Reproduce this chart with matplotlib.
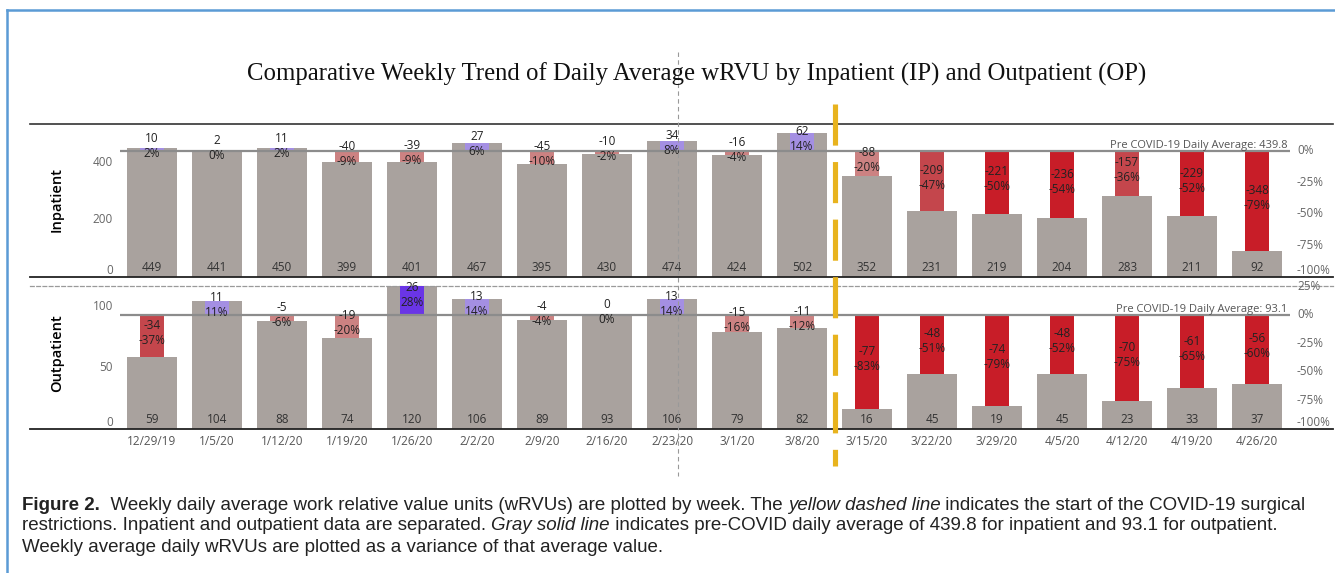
import matplotlib
matplotlib.use('Agg')
import matplotlib.pyplot as plt
import matplotlib.transforms as mtrans
from matplotlib.lines import Line2D
from matplotlib import font_manager

# ---------------- data ----------------
weeks = ['12/29/19', '1/5/20', '1/12/20', '1/19/20', '1/26/20', '2/2/20', '2/9/20',
         '2/16/20', '2/23/20', '3/1/20', '3/8/20', '3/15/20', '3/22/20', '3/29/20',
         '4/5/20', '4/12/20', '4/19/20', '4/26/20']
ip_values = [449, 441, 450, 399, 401, 467, 395, 430, 474, 424, 502, 352, 231, 219, 204, 283, 211, 92]
ip_delta = [10, 2, 11, -40, -39, 27, -45, -10, 34, -16, 62, -88, -209, -221, -236, -157, -229, -348]
ip_pct = [2, 0, 2, -9, -9, 6, -10, -2, 8, -4, 14, -20, -47, -50, -54, -36, -52, -79]
op_values = [59, 104, 88, 74, 120, 106, 89, 93, 106, 79, 82, 16, 45, 19, 45, 23, 33, 37]
op_delta = [-34, 11, -5, -19, 26, 13, -4, 0, 13, -15, -11, -77, -48, -74, -48, -70, -61, -56]
op_pct = [-37, 11, -6, -20, 28, 14, -4, 0, 14, -16, -12, -83, -51, -79, -52, -75, -65, -60]
ip_avg = 439.8
op_avg = 93.1
covid_start = '3/15/20'
ip_ticks = [0, 200, 400]
op_ticks = [0, 50, 100]
ip_pct_ticks = [0, -25, -50, -75, -100]
op_pct_ticks = [25, 0, -25, -50, -75, -100]

title = 'Comparative Weekly Trend of Daily Average wRVU by Inpatient (IP) and Outpatient (OP)'
caption_lines = [
    [('Figure 2.', 'bold'), ('  Weekly daily average work relative value units (wRVUs) are plotted by week. The ', 'normal'),
     ('yellow dashed line', 'italic'), (' indicates the start of the COVID-19 surgical', 'normal')],
    [('restrictions. Inpatient and outpatient data are separated. ', 'normal'), ('Gray solid line', 'italic'),
     (' indicates pre-COVID daily average of 439.8 for inpatient and 93.1 for outpatient.', 'normal')],
    [('Weekly average daily wRVUs are plotted as a variance of that average value.', 'normal')],
]

# ---------------- style ----------------
W, H = 1335, 573
LAB = 'Open Sans'
GREY_BAR = '#A9A29E'
TXT = '#333333'
TICK = '#666666'


def fx(px):
    return px / W


def fy(py):
    return 1 - py / H


def var_color(p):
    if p >= 20:
        return '#6A35E6'
    if p > 0:
        return '#A48FE3'
    if p <= -50:
        return '#C81D28'
    if p <= -30:
        return '#C4464C'
    return '#CC8282'


fig = plt.figure(figsize=(W / 100, H / 100), dpi=100)
fig.patch.set_facecolor('white')

x_left_px, x_right_px = 30, 1333
c0, step = 152, 65
xlim = ((x_left_px - c0) / step, (x_right_px - c0) / step)

ax_ip = fig.add_axes([fx(30), fy(277), fx(1303), (277 - 124) / H])
ax_op = fig.add_axes([fx(30), fy(429), fx(1303), (429 - 286) / H])

panels = [
    (ax_ip, ip_values, ip_delta, ip_pct, ip_avg, ip_ticks, ip_pct_ticks, 533, 'Inpatient', 200),
    (ax_op, op_values, op_delta, op_pct, op_avg, op_ticks, op_pct_ticks, 116.5, 'Outpatient', 353),
]

x = list(range(len(weeks)))
for ax, vals, dlt, pct, avg, ticks, pticks, ytop, name, name_y in panels:
    ax.set_xlim(*xlim)
    ax.set_ylim(0, ytop)
    ax.bar(x, vals, width=0.77, color=GREY_BAR, zorder=2)
    heights = [v - avg for v in vals]
    ax.bar(x, heights, bottom=avg, width=0.38, color=[var_color(p) for p in pct], zorder=3)
    ax.plot([-0.5, len(weeks) - 0.5], [avg, avg], color='#8C8C8C', lw=1.6, zorder=4,
            solid_capstyle='butt')
    ax.text(len(weeks) - 0.53, avg, f'Pre COVID-19 Daily Average: {avg}', ha='right', va='bottom',
            fontsize=8, color='#555555', family=LAB, zorder=5)
    for i, (v, d, p) in enumerate(zip(vals, dlt, pct)):
        ax.annotate(f'{v}', (i, 0), xytext=(0, 3), textcoords='offset pixels', ha='center',
                    va='bottom', fontsize=8.5, color=TXT, family=LAB, zorder=6)
        mid = (v + avg) / 2
        ax.annotate(f'{d}', (i, mid), xytext=(0, 10.5), textcoords='offset pixels', ha='center',
                    va='center', fontsize=8.5, color='#222222', family=LAB, zorder=6)
        ax.annotate(f'{p}%', (i, mid), xytext=(0, -4.5), textcoords='offset pixels', ha='center',
                    va='center', fontsize=8.5, color='#222222', family=LAB, zorder=6)
    # left tick labels
    tl = mtrans.blended_transform_factory(fig.transFigure, ax.transData)
    for t in ticks:
        ax.text(fx(113), t, f'{t}', transform=tl, ha='right', va='bottom' if t == 0 else 'center',
                fontsize=8.5, color=TICK, family=LAB)
    # right percent labels
    for t in pticks:
        yv = avg * (1 + t / 100)
        ax.text(fx(1297), yv, f'{t}%', transform=tl, ha='left',
                va='bottom' if t == -100 else 'center',
                fontsize=8.5, color=TICK, family=LAB, clip_on=False)
    fig.text(fx(57), fy(name_y), name, rotation=90, ha='center', va='center', fontsize=10.5,
             color='black', family=LAB, fontweight='semibold')
    ax.set_yticks([])
    for s in ['left', 'right']:
        ax.spines[s].set_visible(False)
    ax.spines['bottom'].set_color('#222222')
    ax.spines['bottom'].set_linewidth(1.3)
    ax.set_facecolor('none')

ax_ip.set_xticks([])
ax_ip.spines['top'].set_color('#333333')
ax_ip.spines['top'].set_linewidth(1.2)
ax_op.spines['top'].set_color('#9A9A9A')
ax_op.spines['top'].set_linestyle((0, (3, 2)))
ax_op.spines['top'].set_linewidth(0.9)
ax_op.set_xticks(x)
ax_op.set_xticklabels(weeks, fontsize=8.5, color='#555555', family=LAB)
ax_op.tick_params(axis='x', length=0, pad=4.5)

# COVID start line (yellow dashed)
xc = weeks.index(covid_start) - 0.5
tb = mtrans.blended_transform_factory(ax_ip.transData, fig.transFigure)
fig.add_artist(Line2D([xc, xc], [fy(104), fy(466)], transform=tb, color='#E8B31E', lw=3.7,
                      dashes=(8, 3.2), dash_capstyle='butt', zorder=10))

# thin grey dashed guide
fig.add_artist(Line2D([fx(678), fx(678)], [fy(52), fy(476)], color='#999999', lw=0.8,
                      linestyle=(0, (4, 3)), zorder=1))

# blue frame
fig.add_artist(Line2D([fx(7), fx(7)], [fy(10), 0], color='#5B9BD5', lw=1.8))
fig.add_artist(Line2D([fx(7), 1], [fy(10), fy(10)], color='#5B9BD5', lw=1.8))

# title
fig.text(fx(697), fy(74), title, ha='center', va='center', fontsize=17.8, family='Liberation Serif',
         color='#111111')

# caption
fig.canvas.draw()
renderer = fig.canvas.get_renderer()
avail = {f.name for f in font_manager.fontManager.ttflist}
narrow = 'Liberation Sans Narrow' if 'Liberation Sans Narrow' in avail else 'Liberation Sans'
for li, segs in enumerate(caption_lines):
    xp = 22
    yp = 505 + 21 * li
    for s, style in segs:
        kw = dict(fontsize=13.5, family='Liberation Sans', color='#222222')
        if style == 'bold':
            kw.update(fontweight='bold', family=narrow, fontsize=13.5)
        elif style == 'italic':
            kw.update(fontstyle='italic')
        t = fig.text(fx(xp), fy(yp), s, ha='left', va='center', **kw)
        bb = t.get_window_extent(renderer)
        xp += bb.width

fig.savefig('out.png', dpi=100, facecolor='white')
